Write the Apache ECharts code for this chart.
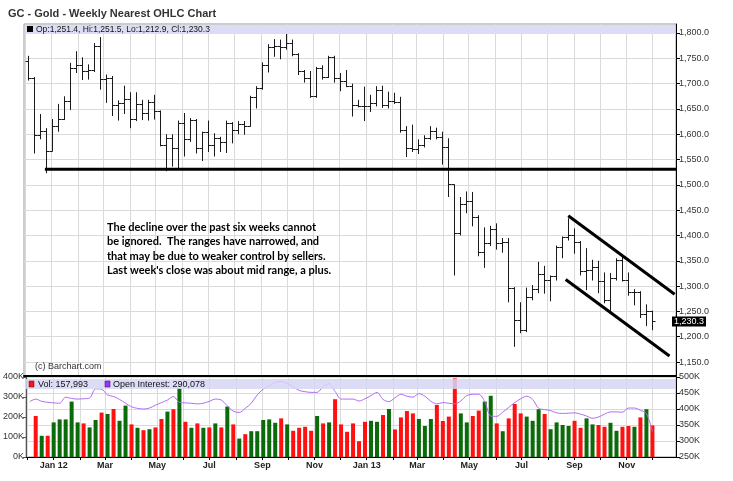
<!DOCTYPE html>
<html><head><meta charset="utf-8">
<script src="https://cdn.jsdelivr.net/npm/echarts@6/dist/echarts.min.js"></script>
<style>html,body{margin:0;padding:0;background:#fff}#c{width:733px;height:481px}</style>
</head><body><div id="c"></div>
<script>
// ---- data (weekly bars, first week starting 2011-12-04) ----
const open  = [1745,1711,1598,1606,1566,1617,1631,1665,1730,1736,1725,1727,1775,1710,1712,1657,1662,1669,1631,1660,1642,1663,1645,1579,1592,1573,1622,1591,1628,1572,1604,1579,1592,1584,1622,1608,1620,1616,1673,1692,1737,1772,1775,1772,1780,1758,1724,1712,1675,1730,1714,1752,1711,1706,1696,1657,1656,1655,1662,1687,1658,1666,1664,1609,1572,1570,1578,1592,1606,1595,1575,1501,1405,1462,1469,1437,1367,1386,1413,1385,1388,1297,1234,1214,1278,1295,1323,1313,1319,1378,1397,1400,1388,1330,1332,1338,1310,1273,1316,1352,1313,1288,1288,1244,1251.4];
const high  = [1755,1713,1640,1612,1630,1660,1675,1741,1764,1752,1738,1780,1792,1718,1715,1667,1696,1683,1683,1668,1668,1678,1647,1600,1600,1627,1642,1632,1630,1605,1627,1602,1595,1627,1624,1626,1626,1676,1695,1742,1778,1788,1787,1798,1787,1760,1727,1725,1733,1736,1755,1755,1721,1727,1700,1668,1694,1678,1695,1696,1684,1682,1674,1616,1619,1590,1598,1616,1613,1605,1592,1501,1476,1487,1486,1440,1416,1419,1424,1395,1395,1298,1268,1297,1302,1348,1340,1321,1380,1398,1434,1414,1389,1375,1352,1350,1327,1326,1355,1362,1327,1294,1290,1264,1251.5];
const low   = [1706,1562,1590,1523,1566,1605,1628,1648,1721,1707,1708,1723,1688,1662,1636,1627,1640,1612,1626,1628,1627,1629,1576,1527,1536,1533,1556,1585,1562,1547,1565,1556,1565,1563,1582,1600,1599,1615,1651,1688,1722,1753,1748,1767,1754,1717,1702,1672,1672,1708,1711,1702,1685,1693,1635,1653,1626,1644,1655,1652,1651,1660,1603,1555,1565,1561,1574,1589,1590,1540,1476,1321,1400,1444,1418,1359,1336,1379,1372,1366,1268,1180,1207,1209,1272,1286,1285,1270,1311,1355,1390,1364,1321,1292,1311,1286,1266,1251,1311,1309,1281,1262,1237,1221,1212.9];
const close = [1711,1598,1606,1566,1617,1631,1665,1730,1736,1725,1727,1775,1710,1712,1657,1662,1669,1631,1660,1642,1663,1645,1579,1592,1573,1622,1591,1628,1572,1604,1579,1592,1584,1622,1608,1620,1616,1673,1692,1737,1772,1775,1772,1780,1758,1724,1712,1675,1730,1714,1752,1711,1706,1696,1657,1656,1655,1662,1687,1658,1666,1664,1609,1572,1570,1578,1592,1606,1595,1575,1501,1405,1462,1469,1437,1367,1386,1413,1385,1388,1297,1234,1214,1278,1295,1323,1313,1319,1378,1397,1400,1388,1330,1332,1338,1310,1273,1316,1352,1313,1288,1288,1244,1250,1230.3];
// volume and open interest in thousands
const volume = [null,205,106,106,173,188,188,277,173,168,148,185,222,215,240,181,257,163,146,134,139,148,190,227,239,344,176,146,168,146,148,168,148,252,163,92,114,129,129,185,188,171,193,163,131,146,151,131,205,168,173,289,163,126,168,79,176,181,176,210,240,138,198,230,218,190,155,190,260,180,202,393,218,173,205,232,277,306,168,129,193,265,218,202,181,239,215,139,173,160,155,181,146,193,163,160,151,171,131,151,155,151,198,239,158];
const openInterest = [423,431,424,421,419,418,437,433,431,432,434,463,462,444,439,430,418,407,402,400,403,412,420,428,439,421,419,418,416,418,424,431,428,410,393,389,402,418,444,462,472,484,486,480,470,458,454,452,452,470,479,455,431,431,431,425,432,442,452,430,423,435,446,440,437,448,440,424,416,420,418,416,425,442,446,446,423,378,377,390,405,420,432,440,430,402,398,395,388,386,387,388,384,378,371,375,384,391,391,390,403,403,396,386,330];
const priceTicks = [1150,1200,1250,1300,1350,1400,1450,1500,1550,1600,1650,1700,1750,1800];
const monthLabels = ['Jan 12','Mar','May','Jul','Sep','Nov','Jan 13','Mar','May','Jul','Sep','Nov'];
const supportLine  = [['2011-12-24',1531],['2013-12-29',1531]];
const channelUpper = [['2013-08-25',1439],['2013-12-27',1284]];
const channelLower = [['2013-08-22',1313],['2013-12-21',1162]];
const lastClose = 1230.3;

// ---- build ----
const weekDates = open.map((_, k) => +new Date(2011, 11, 4 + 7 * k));
const monthTicks = []; for (let m = 0; m <= 24; m++) monthTicks.push(+new Date(2011, 11 + m, 1));
const labelTicks = monthLabels.map((_, i) => +new Date(2012, 2 * i, 1));
const xMin = +new Date(2011, 10, 29, 16), xMax = +new Date(2013, 11, 28, 14);
const toTs = s => { const p = s.split('-').map(Number); return +new Date(p[0], p[1] - 1, p[2]); };
const ohlc = weekDates.map((d, k) => [d, open[k], high[k], low[k], close[k]]);
const volData = weekDates.map((d, k) => [d, volume[k]]);
const oiData = weekDates.map((d, k) => [d, openInterest[k]]);
const FONT = 'Liberation Sans, Arial, sans-serif';
const GRIDC = '#dadada';

function xAxis(gi, lab) {
  return {
    type: 'value', gridIndex: gi, min: xMin, max: xMax, scale: true,
    axisLine: { show: true, onZero: false, lineStyle: { color: '#000', width: gi === 0 ? 2 : 1 } },
    axisTick: { show: lab, customValues: monthTicks, length: 3, lineStyle: { color: '#000' } },
    axisLabel: {
      show: lab, customValues: labelTicks, fontSize: 9, fontWeight: 'bold', color: '#222',
      fontFamily: FONT, margin: 4, hideOverlap: false, showMinLabel: true, showMaxLabel: true,
      formatter: v => { const i = labelTicks.findIndex(t => Math.abs(t - v) < 86400000); return i >= 0 ? monthLabels[i] : ''; }
    },
    splitLine: { show: true, lineStyle: { color: GRIDC } }
  };
}
const fmtPrice = v => v.toLocaleString('en-US', { minimumFractionDigits: 1, maximumFractionDigits: 1 });

const chart = echarts.init(document.getElementById('c'));
chart.setOption({
  animation: false,
  backgroundColor: '#fff',
  title: { text: 'GC - Gold - Weekly Nearest OHLC Chart', left: 3, top: 3,
    textStyle: { fontSize: 11, fontWeight: 'bold', color: '#333', fontFamily: FONT } },
  grid: [
    { left: 24, right: 57, top: 24, bottom: 105, show: true, borderColor: '#999', borderWidth: 1 },
    { left: 24, right: 57, top: 377, bottom: 24, show: true, borderColor: '#999', borderWidth: 1 }
  ],
  xAxis: [xAxis(0, false), xAxis(1, true)],
  yAxis: [
    { type: 'value', gridIndex: 0, position: 'right', min: 1122.4, max: 1817.8,
      axisLine: { show: true, lineStyle: { color: '#000' } },
      axisTick: { show: true, customValues: priceTicks, length: 4, lineStyle: { color: '#000' } },
      axisLabel: { customValues: priceTicks, formatter: fmtPrice, fontSize: 9, color: '#333', fontFamily: FONT, margin: 3 },
      splitLine: { show: true, lineStyle: { color: GRIDC } } },
    { type: 'value', gridIndex: 1, position: 'left', min: 0, max: 400, interval: 100,
      axisLine: { show: true, lineStyle: { color: '#555' } },
      axisTick: { show: true, length: 3, lineStyle: { color: '#555' } },
      axisLabel: { formatter: v => v + 'K', fontSize: 9, color: '#333', fontFamily: FONT, margin: 2 },
      splitLine: { show: false } },
    { type: 'value', gridIndex: 1, position: 'right', min: 250, max: 500, interval: 50,
      axisLine: { show: true, lineStyle: { color: '#000' } },
      axisTick: { show: true, length: 4, lineStyle: { color: '#000' } },
      axisLabel: { formatter: v => v + 'K', fontSize: 9, color: '#333', fontFamily: FONT, margin: 3 },
      splitLine: { show: true, lineStyle: { color: GRIDC } } }
  ],
  series: [
    { type: 'custom', xAxisIndex: 0, yAxisIndex: 0, data: ohlc, z: 3,
      encode: { x: 0, y: [1, 2, 3, 4] },
      renderItem: (params, api) => {
        const t = api.value(0);
        const h = api.coord([t, api.value(2)]), l = api.coord([t, api.value(3)]);
        const o = api.coord([t, api.value(1)]), c = api.coord([t, api.value(4)]);
        const x = Math.round(h[0]) + 0.5;
        const st = { stroke: '#1a1a1a', lineWidth: 1 };
        const oy = Math.round(o[1]) + 0.5, cy = Math.round(c[1]) + 0.5;
        return { type: 'group', children: [
          { type: 'line', shape: { x1: x, y1: h[1], x2: x, y2: l[1] }, style: st },
          { type: 'line', shape: { x1: x - 3, y1: oy, x2: x, y2: oy }, style: st },
          { type: 'line', shape: { x1: x, y1: cy, x2: x + 3, y2: cy }, style: st }
        ] };
      } },
    { type: 'line', xAxisIndex: 0, yAxisIndex: 0, data: supportLine.map(p => [toTs(p[0]), p[1]]),
      symbol: 'none', lineStyle: { color: '#000', width: 3 }, z: 4, silent: true,
      markLine: { symbol: 'none', silent: true, z: 20,
        lineStyle: { color: 'rgba(0,0,0,0)', width: 0, type: 'solid' },
        data: [{ yAxis: lastClose }],
        label: { show: true, position: 'end', distance: -4, formatter: fmtPrice(lastClose), color: '#fff', backgroundColor: '#000',
          fontSize: 9, fontFamily: FONT, padding: [1, 2, 0, 2] } } },
    { type: 'line', xAxisIndex: 0, yAxisIndex: 0, data: channelUpper.map(p => [toTs(p[0]), p[1]]),
      symbol: 'none', lineStyle: { color: '#000', width: 3 }, z: 4, silent: true },
    { type: 'line', xAxisIndex: 0, yAxisIndex: 0, data: channelLower.map(p => [toTs(p[0]), p[1]]),
      symbol: 'none', lineStyle: { color: '#000', width: 3 }, z: 4, silent: true },
    { type: 'bar', xAxisIndex: 1, yAxisIndex: 1, data: volData, barWidth: 4,
      itemStyle: { color: p => (close[p.dataIndex] >= close[p.dataIndex - 1] ? '#0b6b0b' : '#ff1111') } },
    { type: 'line', xAxisIndex: 1, yAxisIndex: 2, data: oiData, symbol: 'none', smooth: 0.3,
      lineStyle: { color: '#b06cf5', width: 1 }, z: 4 }
  ],
  graphic: [
    { type: 'rect', z: 1, shape: { x: 25, y: 25, width: 650, height: 9 }, style: { fill: '#dcdcf6' } },
    { type: 'rect', z: 5, shape: { x: 27, y: 26, width: 6, height: 6 }, style: { fill: '#000' } },
    { type: 'text', z: 5, x: 36, y: 29.5, style: { text: 'Op:1,251.4, Hi:1,251.5, Lo:1,212.9, Cl:1,230.3',
      font: '8.5px ' + FONT, fill: '#111', verticalAlign: 'middle' } },
    { type: 'text', z: 5, x: 107, y: 220, style: { text: "The decline over the past six weeks cannot\nbe ignored.  The ranges have narrowed, and\nthat may be due to weaker control by sellers.\nLast week's close was about mid range, a plus.",
      font: 'bold 11px Lato, sans-serif', fill: '#000', lineHeight: 14.5 } },
    { type: 'text', z: 5, x: 35, y: 367, style: { text: '(c) Barchart.com', font: '9px ' + FONT, fill: '#333', verticalAlign: 'middle' } },
    { type: 'rect', z: 10, shape: { x: 25, y: 379, width: 650, height: 10 }, style: { fill: 'rgba(214,214,246,0.85)' } },
    { type: 'rect', z: 11, shape: { x: 29, y: 381, width: 5, height: 6 }, style: { fill: '#ff1111', stroke: '#700', lineWidth: 0.5 } },
    { type: 'text', z: 11, x: 38, y: 384.5, style: { text: 'Vol: 157,993', font: '9px ' + FONT, fill: '#111', verticalAlign: 'middle' } },
    { type: 'rect', z: 11, shape: { x: 105, y: 381, width: 5, height: 6 }, style: { fill: '#9933ff', stroke: '#404', lineWidth: 0.5 } },
    { type: 'text', z: 11, x: 113, y: 384.5, style: { text: 'Open Interest: 290,078', font: '9px ' + FONT, fill: '#111', verticalAlign: 'middle' } }
  ]
});
</script></body></html>
